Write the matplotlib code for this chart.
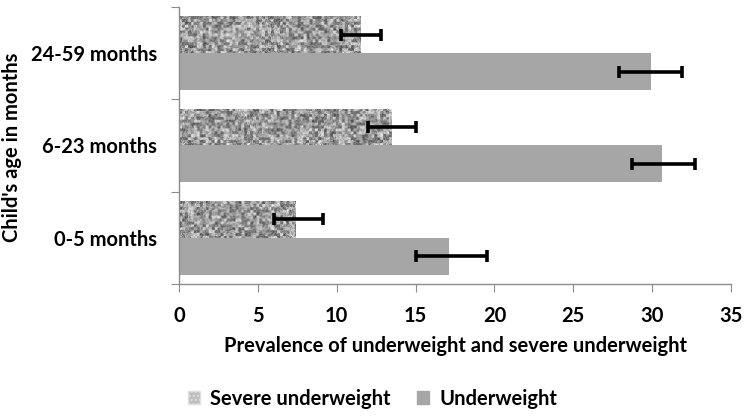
import numpy as np
import matplotlib
matplotlib.use("Agg")
import matplotlib.pyplot as plt
from matplotlib.patches import Patch

# data
groups = ["0-5 months", "6-23 months", "24-59 months"]
severe = [7.4, 13.5, 11.5]
severe_lo = [6.0, 12.0, 10.3]
severe_hi = [9.1, 15.0, 12.8]
under = [17.1, 30.6, 29.9]
under_lo = [15.0, 28.7, 27.9]
under_hi = [19.5, 32.7, 31.9]

plt.rcParams['font.family'] = ['Lato', 'DejaVu Sans']
plt.rcParams['font.weight'] = 'bold'
fs = 14.5

fig = plt.figure(figsize=(7.45, 4.16), dpi=100)
ax = fig.add_axes([0.2403, 0.3173, 0.741, 0.6659])

h = 0.4
y = np.arange(len(groups))
gray = '#a6a6a6'
axis_col = '#8c8c8c'

# underweight bars (solid grey)
ax.barh(y - h / 2, under, height=h, color=gray, zorder=2)

# severe bars: speckled texture clipped into each bar
rng = np.random.default_rng(3)
for yi, v in zip(y, severe):
    rect = ax.barh(yi + h / 2, v, height=h, color='none', zorder=2)[0]
    nx, ny = int(v * 16), 38
    tex = rng.random((ny // 3 + 1, nx // 3 + 1))
    tex = np.kron(tex, np.ones((3, 3)))[:ny, :nx]
    tex = 0.6 * tex + 0.4 * rng.random((ny, nx))
    im = ax.imshow(tex, cmap='gray', vmin=-0.35, vmax=1.05, aspect='auto',
                   extent=(0, v, yi, yi + h), interpolation='bilinear', zorder=2)
    im.set_clip_path(rect)

# error bars
ekw = dict(fmt='none', ecolor='black', elinewidth=2.6, capsize=4, capthick=2.6, zorder=3)
ax.errorbar(severe, y + h / 2,
            xerr=[np.subtract(severe, severe_lo), np.subtract(severe_hi, severe)], **ekw)
ax.errorbar(under, y - h / 2,
            xerr=[np.subtract(under, under_lo), np.subtract(under_hi, under)], **ekw)

ax.set_xlim(0, 35)
ax.set_ylim(-0.5, 2.5)
ax.set_xticks(np.arange(0, 36, 5))
ax.set_yticks([-0.5, 0.5, 1.5, 2.5])
ax.set_yticklabels([])
ax.set_yticks(y, minor=True)
ax.set_yticklabels(groups, minor=True, fontsize=fs, fontweight='bold')
ax.tick_params(axis='y', which='minor', length=0, pad=16)
ax.tick_params(axis='y', which='major', length=6, color=axis_col, direction='out')
ax.tick_params(axis='x', length=6, color=axis_col, labelsize=fs, pad=10)

for s in ['top', 'right']:
    ax.spines[s].set_visible(False)
for s in ['left', 'bottom']:
    ax.spines[s].set_color(axis_col)
    ax.spines[s].set_linewidth(1.0)

ax.set_xlabel("Prevalence of underweight and severe underweight",
              fontsize=fs, fontweight='bold', labelpad=7)
ax.set_ylabel("Child's age in months", fontsize=fs, fontweight='bold')
ax.yaxis.set_label_coords(-0.285, 0.495)

handles = [Patch(facecolor='#bdbdbd', edgecolor='#e0e0e0', hatch='....'),
           Patch(facecolor=gray, edgecolor=gray)]
fig.legend(handles, ["Severe underweight", "Underweight"], loc='center',
           bbox_to_anchor=(0.50, 0.042), ncol=2, frameon=False,
           prop=dict(size=fs, weight='bold'), handlelength=0.6, handleheight=0.6,
           handletextpad=0.5, columnspacing=1.3)

fig.savefig("out.png", dpi=100)
